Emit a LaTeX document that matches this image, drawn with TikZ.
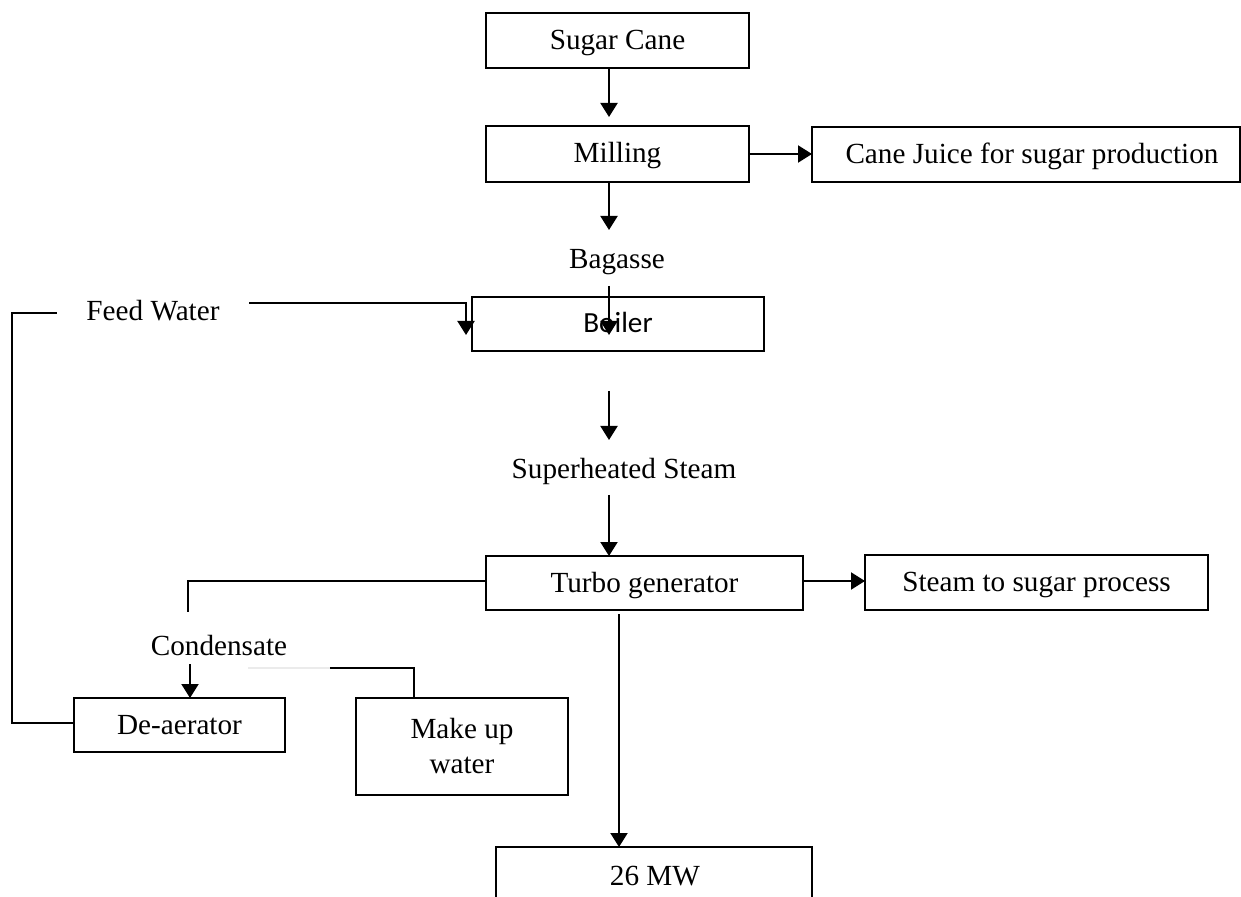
\documentclass[tikz,border=0pt]{standalone}
\usepackage{fontspec}
\setmainfont{Liberation Serif}
\newfontfamily\calib{Carlito}
\usetikzlibrary{arrows.meta}
\begin{document}
\begin{tikzpicture}[x=0.5pt,y=-0.5pt,
  box/.style={draw,line width=1pt,inner sep=0pt,outer sep=0pt,align=center,
    font=\fontsize{14.6pt}{17.5pt}\selectfont,text height=12.2pt,text depth=3.2pt},
  lbl/.style={inner sep=0pt,outer sep=0pt,font=\fontsize{14.6pt}{17.5pt}\selectfont},
  ln/.style={line width=1pt},
  arr/.style={line width=1pt,-{Triangle[length=7pt,width=8.5pt]}},
  faint/.style={line width=1pt,draw=black!8}]
\useasboundingbox (0,0) rectangle (1241,897);
% boxes
\node[box,minimum width=131.5pt,minimum height=27.5pt] (sugar) at (617.5,40.5) {Sugar Cane};
\node[box,minimum width=131.5pt,minimum height=28pt] (milling) at (617.5,154) {Milling};
\node[box,minimum width=214pt,minimum height=27.5pt] (juice) at (1026,154.5) {\hspace*{6pt}Cane Juice for sugar production};
\node[box,minimum width=146pt,minimum height=27pt] (boiler) at (618,324) {\calib Boiler};
\node[box,minimum width=158.5pt,minimum height=27pt] (turbo) at (644.5,583) {Turbo generator};
\node[box,minimum width=171.5pt,minimum height=27.5pt] (steam) at (1036.5,582.5) {Steam to sugar process};
\node[box,minimum width=105.5pt,minimum height=27pt] (deaer) at (179.5,725) {De-aerator};
\node[box,minimum width=106pt,minimum height=48.5pt,text height=,text depth=] (makeup) at (462,746.5) {Make up\\water};
\node[lbl] (mw) at (655,876) {26 MW};
\coordinate (mwnw) at (496,847);
\coordinate (mwne) at (812,847);
\draw[ln] (mwnw |- 0,898) -- (mwnw) -- (mwne) -- (mwne |- 0,898);
% labels
\node[lbl] (bagasse) at (617,262) {Bagasse};
\node[lbl] (feed) at (153,311) {Feed Water};
\node[lbl] (super) at (624,471) {Superheated Steam};
\node[lbl] (cond) at (219,646) {Condensate};
% coordinates
\coordinate (cx) at (609,0);
\coordinate (t1) at (609,117);
\coordinate (t2) at (609,230);
\coordinate (b1) at (609,286);
\coordinate (b2) at (609,335);
\coordinate (f1) at (249,303);
\coordinate (f2) at (466,303);
\coordinate (f3) at (466,335);
\coordinate (s1) at (609,391);
\coordinate (s2) at (609,440);
\coordinate (s3) at (609,495);
\coordinate (tl) at (188,581);
\coordinate (tl2) at (188,612);
\coordinate (c1) at (190,664);
\coordinate (m1) at (414,668);
\coordinate (m2) at (330,668);
\coordinate (m3) at (248,668);
\coordinate (d1) at (12,723);
\coordinate (d2) at (12,313);
\coordinate (d3) at (57,313);
\coordinate (g1) at (619,614);
% connectors
\draw[arr] (sugar.south -| cx) -- (t1);
\draw[arr] (milling.east) -- (juice.west |- milling.east);
\draw[arr] (milling.south -| cx) -- (t2);
\draw[arr] (b1) -- (b2);
\draw[arr] (f1) -- (f2) -- (f3);
\draw[arr] (s1) -- (s2);
\draw[arr] (s3) -- (turbo.north -| cx);
\draw[arr] (turbo.east |- 0,581) -- (steam.west |- 0,581);
\draw[ln] (turbo.west |- 0,581) -- (tl) -- (tl2);
\draw[arr] (c1) -- (deaer.north -| c1);
\draw[ln] (makeup.north -| m1) -- (m1) -- (m2);
\draw[faint] (m2) -- (m3);
\draw[ln] (deaer.west |- d1) -- (d1) -- (d2) -- (d3);
\draw[arr] (g1) -- (mwnw -| g1);
\end{tikzpicture}
\end{document}
